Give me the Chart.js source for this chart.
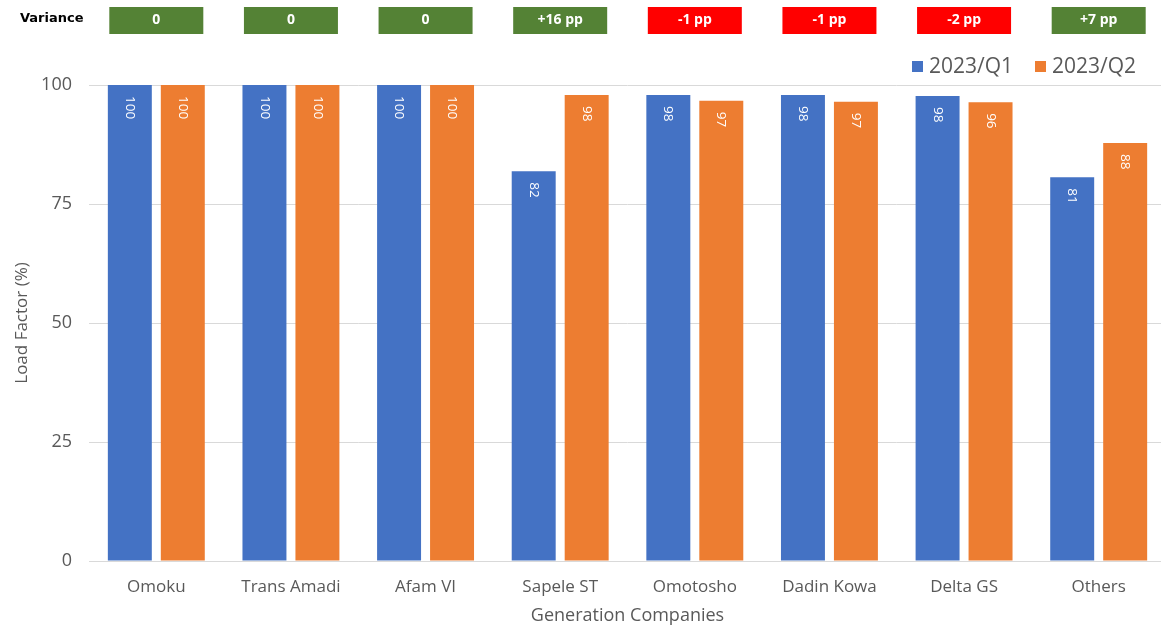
<!DOCTYPE html>
<html><head><meta charset="utf-8">
<script src="https://cdn.jsdelivr.net/npm/chart.js@4/dist/chart.umd.min.js"></script>
<style>html,body{margin:0;padding:0;background:#fff;overflow:hidden;width:1161px;height:627px}#wrap{width:1168px;height:627px}</style>
</head><body><div id="wrap"><canvas id="c" width="1168" height="627"></canvas></div>
<script>
const categories = ["Omoku","Trans Amadi","Afam VI","Sapele ST","Omotosho","Dadin Kowa","Delta GS","Others"];
const q1Values = [100,100,100,81.9,97.9,97.9,97.7,80.6];
const q2Values = [100,100,100,97.9,96.7,96.5,96.4,87.8];
const varianceLabels = ["0","0","0","+16 pp","-1 pp","-1 pp","-2 pp","+7 pp"];
const varianceSign = [0,0,0,1,-1,-1,-1,1];
const yTicks = [0,25,50,75,100];

const FONT = "'Open Sans', sans-serif";
const GRAY = "#595959";

const overlay = {
  id: 'overlay',
  afterDatasetsDraw(chart) {
    const ctx = chart.ctx;
    ctx.save();
    ctx.font = "13.5px " + FONT;
    ctx.fillStyle = "#fff";
    ctx.textAlign = "left";
    ctx.textBaseline = "middle";
    chart.data.datasets.forEach((ds, di) => {
      const meta = chart.getDatasetMeta(di);
      meta.data.forEach((bar, i) => {
        ctx.save();
        ctx.translate(bar.x, bar.y + 11);
        ctx.rotate(Math.PI / 2);
        ctx.fillText(String(Math.round(ds.data[i])), 0, 0);
        ctx.restore();
      });
    });
    ctx.restore();
  },
  afterDraw(chart) {
    const ctx = chart.ctx;
    const xs = chart.scales.x;
    ctx.save();
    ctx.font = "bold 13px 'DejaVu Sans', sans-serif";
    ctx.fillStyle = "#000";
    ctx.textAlign = "left";
    ctx.textBaseline = "middle";
    ctx.fillText("Variance", 20, 19);
    varianceLabels.forEach((lab, i) => {
      const cx = xs.getPixelForValue(i);
      ctx.fillStyle = varianceSign[i] < 0 ? "#FF0000" : "#548235";
      ctx.fillRect(cx - 47, 7, 94, 27);
      ctx.fillStyle = "#fff";
      ctx.font = "bold 14px " + FONT;
      ctx.textAlign = "center";
      ctx.fillText(lab, cx, 20.5);
    });
    const legendX = [912, 1035];
    ctx.font = "21px " + FONT;
    ctx.textAlign = "left";
    ctx.textBaseline = "middle";
    chart.data.datasets.forEach((ds, di) => {
      ctx.fillStyle = ds.backgroundColor;
      ctx.fillRect(legendX[di], 61, 11, 11);
      ctx.fillStyle = GRAY;
      ctx.fillText(ds.label, legendX[di] + 17, 67);
    });
    ctx.restore();
  }
};

new Chart(document.getElementById('c'), {
  type: 'bar',
  data: {
    labels: categories,
    datasets: [
      { label: "2023/Q1", data: q1Values, backgroundColor: "#4472C4", categoryPercentage: 0.787, barPercentage: 0.83 },
      { label: "2023/Q2", data: q2Values, backgroundColor: "#ED7D31", categoryPercentage: 0.787, barPercentage: 0.83 }
    ]
  },
  options: {
    responsive: false,
    animation: false,
    layout: { padding: { top: 85, right: 2, left: 8, bottom: 0 } },
    plugins: {
      legend: { display: false },
      tooltip: { enabled: false }
    },
    scales: {
      x: {
        grid: { display: false },
        border: { display: true, color: "#d9d9d9" },
        ticks: { font: { family: FONT, size: 17 }, color: GRAY, padding: 8 },
        title: { display: true, text: "Generation Companies", font: { family: FONT, size: 18 }, color: GRAY, padding: { top: 0, bottom: 0 } }
      },
      y: {
        min: 0, max: 100,
        afterBuildTicks(scale) { scale.ticks = yTicks.map(v => ({ value: v })); },
        afterFit(scale) { scale.width = 81; },
        grid: { color: "#d9d9d9", drawTicks: false },
        border: { display: false },
        ticks: { font: { family: FONT, size: 18 }, color: GRAY, padding: 17 },
        title: { display: true, text: "Load Factor (%)", font: { family: FONT, size: 17 }, color: GRAY }
      }
    }
  },
  plugins: [overlay]
});
</script></body></html>
